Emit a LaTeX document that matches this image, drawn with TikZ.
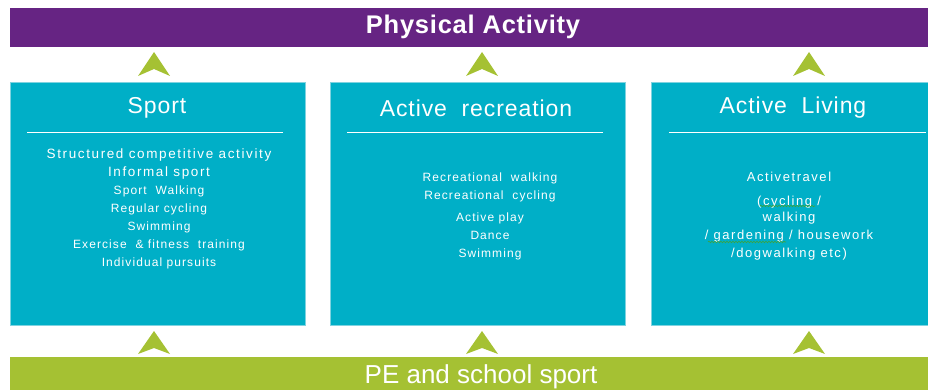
\documentclass[tikz,border=0pt]{standalone}
\usepackage{fontspec}
\setmainfont{Liberation Sans}
\usetikzlibrary{decorations.pathmorphing}
\definecolor{barpurple}{HTML}{662483}
\definecolor{boxteal}{HTML}{00AFC7}
\definecolor{edgeteal}{HTML}{7FD3E0}
\definecolor{leafgreen}{HTML}{A5C133}
\definecolor{wavegreen}{HTML}{3FA33A}
\tikzset{
  areabox/.style={rectangle, fill=boxteal, draw=edgeteal, line width=0.6pt, minimum width=295pt, minimum height=243pt, anchor=north west, inner sep=0pt},
  boxtitle/.style={text=white, font=\fontsize{23}{26}\selectfont\addfontfeature{LetterSpace=4}, inner sep=0pt},
  boxbody/.style={text=white, align=center, inner sep=0pt, font=\fontsize{12}{18}\selectfont\addfontfeature{LetterSpace=9}},
  rulerline/.style={draw=white, line width=0.8pt},
  chevron/.style={fill=leafgreen},
  wavy/.style={draw=wavegreen, line width=0.6pt, decorate, decoration={snake, amplitude=0.8pt, segment length=3pt}}
}
\begin{document}
\begin{tikzpicture}[x=1pt,y=-1pt]
\useasboundingbox (0,0) rectangle (928,390);
% top bar
\node[rectangle, fill=barpurple, minimum width=918pt, minimum height=39pt, anchor=north west, inner sep=0pt] (pa) at (10,8) {};
\node[text=white, font=\fontsize{25.5}{28}\selectfont\bfseries\addfontfeature{LetterSpace=3}, inner sep=0pt] (patext) at (473,27) {Physical Activity};
% bottom bar
\node[rectangle, fill=leafgreen, minimum width=918pt, minimum height=34pt, anchor=north west, inner sep=0pt] (pe) at (10,357) {};
\node[text=white, font=\fontsize{26}{28}\selectfont, inner sep=0pt] (petext) at (481,377) {PE and school sport};
% boxes
\node[areabox] (sport) at (10,82) {};
\node[areabox] (recr) at (330,82) {};
\node[areabox, minimum width=290pt] (living) at (651,82) {};
% titles
\node[boxtitle] (t1) at (157,108) {Sport};
\node[boxtitle] (t2) at (476,108) {Active\ \ recreation};
\node[boxtitle] (t3) at (793,108) {Active\ \ Living};
% rules
\draw[rulerline] (27,132) -- (283,132);
\draw[rulerline] (347,132) -- (603,132);
\draw[rulerline] (669,132) -- (926,132);
% body texts
\node[boxbody] (b1) at (159,209) {{\fontsize{13.5}{18}\selectfont\addfontfeature{LetterSpace=12}Structured competitive activity}\\
{\fontsize{13.5}{18}\selectfont\addfontfeature{LetterSpace=12}Informal sport}\\
Sport\ \ Walking\\
Regular\ cycling\\
Swimming\\
Exercise\ \ \& fitness\ \ training\\
Individual pursuits};
\node[boxbody] (b2) at (490,216) {Recreational\ \ walking\\
Recreational\ \ cycling\\[4pt]
Active play\\
Dance\\
Swimming};
\node[boxbody, font=\fontsize{13}{18}\selectfont\addfontfeature{LetterSpace=12}] (b3) at (789,216.5) {Activetravel\\[6pt]
(cycling /\\[-2pt]
walking\\
/ gardening / housework\\
/dogwalking etc)};
% wavy spell-check marks
\draw[wavy] (760,206) -- (815,206);
\draw[wavy] (708,242) -- (786,242);
% chevrons
\foreach \cx in {154,482,809}{
  \fill[chevron] (\cx,52) -- (\cx+16,76) -- (\cx,69) -- (\cx-16,76) -- cycle;
  \fill[chevron] (\cx,331) -- (\cx+16,354) -- (\cx,348) -- (\cx-16,354) -- cycle;
}
\end{tikzpicture}
\end{document}
